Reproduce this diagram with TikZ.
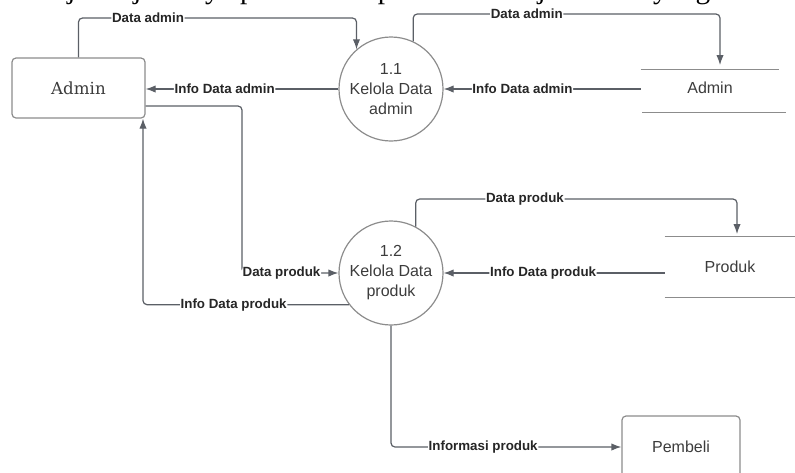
\documentclass[tikz,border=0pt]{standalone}
\usepackage{fontspec}
\setmainfont{Liberation Sans}
\newfontfamily\capfont{Liberation Serif}
\newfontfamily\slabfont{DejaVu Serif}
\usetikzlibrary{arrows.meta}
\definecolor{edgegray}{HTML}{5B5F66}
\definecolor{bordergray}{HTML}{8C8C8C}
\definecolor{textgray}{HTML}{3C3C3C}

\begin{document}
\begin{tikzpicture}
	[
	x=0.75pt, y=-0.75pt,
	proc/.style={draw = bordergray, line width = 0.9pt, shape = circle, minimum size = 78pt, inner sep = 0pt, align = center, text = textgray, font = \fontsize{12}{15}\selectfont},
	ent/.style={draw = bordergray, line width = 0.9pt, shape = rectangle, rounded corners = 3pt, text = textgray},
	store/.style={shape = rectangle, text = textgray, font = \fontsize{12}{15}\selectfont},
	storeline/.style={draw = bordergray, line width = 0.9pt},
	flow/.style={draw = edgegray, line width = 0.9pt, rounded corners = 3pt, -{Latex[length=7.5pt,width=5.5pt]}},
	lbl/.style={fill = white, inner sep = 0.5pt, text = black!85, font = \bfseries\fontsize{10}{12}\selectfont}
	]
	
	\useasboundingbox (0,0) rectangle (795,472);
	\clip (0,0) rectangle (795,472);
	
	\node[anchor=base west, inner sep=0pt, font=\capfont\fontsize{22}{26}\selectfont](cap) at (-2,-2){as kerja berjalannya pemesanan pada website jasa SEO yang di ana};
	
	\node[ent, minimum width=99.75pt, minimum height=45pt, font=\slabfont\fontsize{12.5}{15}\selectfont](adm) at (78.5,88){Admin};
	\node[proc](p11) at (391,89){1.1\\Kelola Data\\admin};
	\node[proc](p12) at (391,273){1.2\\Kelola Data\\produk};
	\node[store, minimum width=103.5pt, minimum height=27pt](ds1) at (710,88){Admin};
	\node[store, minimum width=97.5pt, minimum height=45pt](ds2) at (730,267){Produk};
	\node[ent, minimum width=88.5pt, minimum height=46.5pt, font=\fontsize{12}{15}\selectfont](pb) at (681,447){Pembeli};
	
	\draw[storeline] (ds1.north west) -- (ds1.north east);
	\draw[storeline] ([xshift=1pt,yshift=-4.5pt]ds1.south west) -- ([xshift=5pt,yshift=-4.5pt]ds1.south east);
	\draw[storeline] (ds2.north west) -- (ds2.north east);
	\draw[storeline] (ds2.south west) -- (ds2.south east);
	
	\coordinate (t1) at (0,18);
	\coordinate (t2) at (0,14);
	\coordinate (t3) at (0,199);
	\coordinate (x1) at (720,0);
	\coordinate (x2) at (737,0);
	\coordinate (x3) at (242,0);
	\coordinate (x4) at (143,0);
	
	\draw[flow] (adm.north) -- (adm.north |- t1) -- node[lbl, pos=.25]{Data admin} (p11.131 |- t1) -- (p11.131);
	\draw[flow, shorten >=3.5pt] (p11.65) -- (p11.65 |- t2) -- node[lbl, pos=.37]{Data admin} (x1 |- t2) -- (ds1.north -| x1);
	\draw[flow] (ds1.west |- p11) -- node[lbl, pos=.6]{Info Data admin} (p11.east);
	\draw[flow] (p11.west) -- node[lbl, pos=.59]{Info Data admin} (adm.east |- p11);
	
	\draw[flow] ([yshift=-13.5pt]adm.east) -| (x3 |- p12.west) -- node[lbl, pos=.41]{Data produk} (p12.west);
	\draw[flow] (p12.217) -| node[lbl, pos=.28]{Info Data produk} (x4 |- adm.south);
	\draw[flow, shorten >=2pt] (p12.62) -- (p12.62 |- t3) -- node[lbl, pos=.34]{Data produk} (x2 |- t3) -- (ds2.north -| x2);
	\draw[flow] (ds2.west |- p12) -- node[lbl, pos=.55]{Info Data produk} (p12.east);
	\draw[flow] (p12.south) |- node[lbl, pos=.7]{Informasi produk} (pb.west);
\end{tikzpicture}
\end{document}
